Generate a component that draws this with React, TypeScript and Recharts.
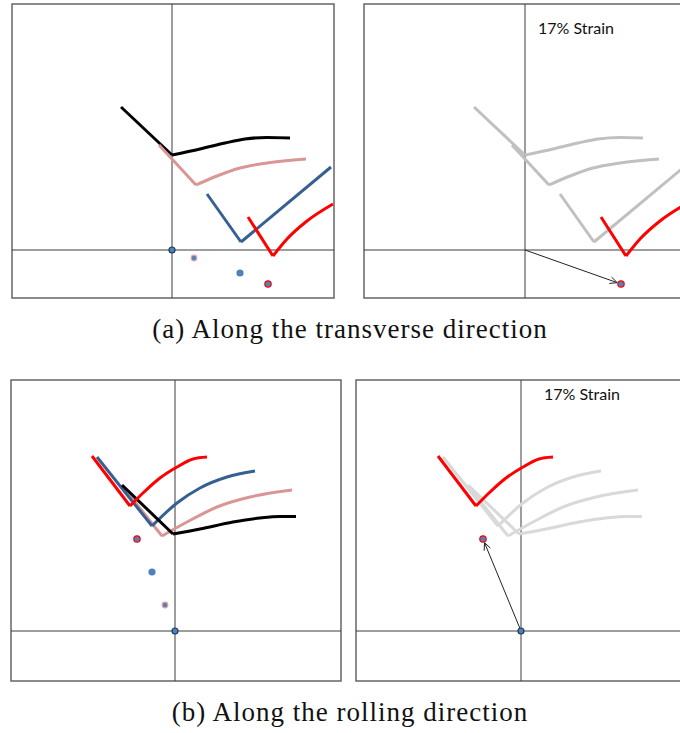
import { ComposedChart, Line, Scatter, XAxis, YAxis, ReferenceLine, ReferenceArea } from 'recharts'

type Pt = { x: number; y: number }

// (a) transverse direction – each path is a straight leg into the corner,
// then a curved arm out of it. Origin sits at the axis crossing.
const transBlackLeg: Pt[] = [{ x: -5.1, y: 14.3 }, { x: 0, y: 9.5 }]
const transBlackArm: Pt[] = [
  { x: 0, y: 9.5 }, { x: 2.8, y: 10.1 }, { x: 5.3, y: 10.7 },
  { x: 7.3, y: 11.1 }, { x: 9.5, y: 11.25 }, { x: 11.8, y: 11.2 },
]
const transPinkLeg: Pt[] = [{ x: -1.3, y: 10.5 }, { x: 2.4, y: 6.5 }]
const transPinkArm: Pt[] = [
  { x: 2.4, y: 6.5 }, { x: 4.5, y: 7.4 }, { x: 6.8, y: 8.2 }, { x: 9.5, y: 8.7 }, { x: 13.4, y: 9.1 },
]
const transBlueLeg: Pt[] = [{ x: 3.5, y: 5.6 }, { x: 6.9, y: 0.8 }]
const transBlueArm: Pt[] = [{ x: 6.9, y: 0.8 }, { x: 15.9, y: 8.3 }]
const transRedLeg: Pt[] = [{ x: 7.6, y: 3.3 }, { x: 10.1, y: -0.6 }]
const transRedArm: Pt[] = [
  { x: 10.1, y: -0.6 }, { x: 11.5, y: 1.1 }, { x: 13.5, y: 2.9 }, { x: 16.1, y: 4.6 },
]
const transOrigin: Pt[] = [{ x: 0, y: 0 }]
const transPinkDot: Pt[] = [{ x: 2.2, y: -0.8 }]
const transBlueDot: Pt[] = [{ x: 6.8, y: -2.3 }]
const transRedDot: Pt[] = [{ x: 9.6, y: -3.4 }]

// (b) rolling direction
const rollRedLeg: Pt[] = [{ x: -8.3, y: 17.5 }, { x: -4.5, y: 12.5 }]
const rollRedArm: Pt[] = [
  { x: -4.5, y: 12.5 }, { x: -3.2, y: 13.8 }, { x: -1.5, y: 15.3 },
  { x: 0.2, y: 16.4 }, { x: 1.8, y: 17.2 }, { x: 3.2, y: 17.4 },
]
const rollBlueLeg: Pt[] = [{ x: -7.8, y: 17.4 }, { x: -2.3, y: 10.5 }]
const rollBlueArm: Pt[] = [
  { x: -2.3, y: 10.5 }, { x: 0.2, y: 12.8 }, { x: 2.5, y: 14.3 }, { x: 5.2, y: 15.4 }, { x: 8.0, y: 16.0 },
]
const rollPinkLeg: Pt[] = [{ x: -5.2, y: 14.4 }, { x: -1.3, y: 9.5 }]
const rollPinkArm: Pt[] = [
  { x: -1.3, y: 9.5 }, { x: 1.2, y: 10.9 }, { x: 4.2, y: 12.4 }, { x: 7.5, y: 13.4 }, { x: 11.7, y: 14.1 },
]
const rollBlackLeg: Pt[] = [{ x: -5.3, y: 14.6 }, { x: -0.2, y: 9.7 }]
const rollBlackArm: Pt[] = [
  { x: -0.2, y: 9.7 }, { x: 2.5, y: 10.2 }, { x: 5.8, y: 10.9 }, { x: 8.5, y: 11.3 }, { x: 10.5, y: 11.45 },
  { x: 12.1, y: 11.45 },
]
const rollOrigin: Pt[] = [{ x: 0, y: 0 }]
const rollPinkDot: Pt[] = [{ x: -1.0, y: 2.6 }]
const rollBlueDot: Pt[] = [{ x: -2.3, y: 5.9 }]
const rollRedDot: Pt[] = [{ x: -3.8, y: 9.2 }]

const strainLabel = '17% Strain'
const captions = ['(a) Along the transverse direction', '(b) Along the rolling direction']

const BLACK = '#000000'
const PINK = '#d99694'
const BLUE = '#376092'
const RED = '#ff0000'
const DOT_FILL = '#4f81bd'

type Curve = { leg: Pt[]; arm: Pt[]; color: string }
type Dot = { data: Pt[]; r: number; stroke?: string }

interface PanelProps {
  left: number
  top: number
  width: number
  height: number
  xDomain: [number, number]
  yDomain: [number, number]
  curves: Curve[]
  dots: Dot[]
  arrowTo?: Pt
}

const dotShape = (r: number, stroke?: string) => (props: any) => (
  <circle
    cx={props.cx}
    cy={props.cy}
    r={r}
    fill={DOT_FILL}
    stroke={stroke ?? 'none'}
    strokeWidth={stroke ? 1.2 : 0}
  />
)

// thin line from the origin with an open arrow head stopping short of the dot
const arrowShape = (props: any) => {
  const { x1, y1, x2, y2 } = props
  const dx = x2 - x1
  const dy = y2 - y1
  const len = Math.hypot(dx, dy)
  const ux = dx / len
  const uy = dy / len
  const tx = x2 - ux * 4
  const ty = y2 - uy * 4
  const head = 8
  const a = (25 * Math.PI) / 180
  const wing = (s: number) => {
    const c = Math.cos(s * a)
    const sn = Math.sin(s * a)
    const rx = -(ux * c - uy * sn)
    const ry = -(ux * sn + uy * c)
    return `${tx + rx * head},${ty + ry * head}`
  }
  return (
    <g>
      <line x1={x1} y1={y1} x2={tx} y2={ty} stroke="#222" strokeWidth={1} />
      <polyline points={`${wing(1)} ${tx},${ty} ${wing(-1)}`} fill="none" stroke="#222" strokeWidth={1} />
    </g>
  )
}

function Panel({ left, top, width, height, xDomain, yDomain, curves, dots, arrowTo }: PanelProps) {
  return (
    <div style={{ position: 'absolute', left: left - 2, top: top - 2 }}>
      <ComposedChart width={width + 4} height={height + 4} margin={{ top: 2, right: 2, bottom: 2, left: 2 }}>
        <XAxis type="number" dataKey="x" domain={xDomain} allowDataOverflow hide />
        <YAxis type="number" dataKey="y" domain={yDomain} allowDataOverflow hide />
        <ReferenceArea
          x1={xDomain[0]}
          x2={xDomain[1]}
          y1={yDomain[0]}
          y2={yDomain[1]}
          fill="none"
          stroke="#666"
          strokeWidth={1.5}
          fillOpacity={0}
          ifOverflow="visible"
        />
        <ReferenceLine x={0} stroke="#3c3c3c" strokeWidth={1} />
        <ReferenceLine y={0} stroke="#3c3c3c" strokeWidth={1} />
        {curves.flatMap((c, i) => [
          <Line
            key={`leg${i}`}
            data={c.leg}
            dataKey="y"
            type="linear"
            stroke={c.color}
            strokeWidth={3}
            dot={false}
            activeDot={false}
            isAnimationActive={false}
          />,
          <Line
            key={`arm${i}`}
            data={c.arm}
            dataKey="y"
            type="monotone"
            stroke={c.color}
            strokeWidth={3}
            dot={false}
            activeDot={false}
            isAnimationActive={false}
          />,
        ])}
        {arrowTo && (
          <ReferenceLine
            segment={[{ x: 0, y: 0 }, arrowTo]}
            shape={arrowShape}
            ifOverflow="visible"
          />
        )}
        {dots.map((d, i) => (
          <Scatter
            key={i}
            data={d.data}
            dataKey="y"
            shape={dotShape(d.r, d.stroke)}
            isAnimationActive={false}
          />
        ))}
      </ComposedChart>
    </div>
  )
}

const labelStyle: React.CSSProperties = {
  position: 'absolute',
  fontFamily: 'Lato, "Open Sans", sans-serif',
  fontSize: 16,
  lineHeight: '16px',
  color: '#111',
  whiteSpace: 'nowrap',
}

const captionStyle: React.CSSProperties = {
  position: 'absolute',
  left: 0,
  width: 700,
  textAlign: 'center',
  fontFamily: '"Liberation Serif", "DejaVu Serif", serif',
  fontSize: 27,
  letterSpacing: 1,
  lineHeight: '27px',
  color: '#111',
  whiteSpace: 'nowrap',
}

export default function App() {
  const gray1 = '#c0c0c0'
  const gray2 = '#d9d9d9'
  return (
    <div
      style={{
        position: 'absolute',
        left: 0,
        top: 0,
        width: 680,
        height: 733,
        overflow: 'hidden',
        background: '#fff',
      }}
    >
      <Panel
        left={12}
        top={4}
        width={322}
        height={294}
        xDomain={[-16.0, 16.2]}
        yDomain={[-4.8, 24.6]}
        curves={[
          { leg: transBlackLeg, arm: transBlackArm, color: BLACK },
          { leg: transPinkLeg, arm: transPinkArm, color: PINK },
          { leg: transBlueLeg, arm: transBlueArm, color: BLUE },
          { leg: transRedLeg, arm: transRedArm, color: RED },
        ]}
        dots={[
          { data: transOrigin, r: 3, stroke: '#1f3a5f' },
          { data: transPinkDot, r: 2.8, stroke: '#e3a3a3' },
          { data: transBlueDot, r: 3.6 },
          { data: transRedDot, r: 3.2, stroke: RED },
        ]}
      />
      <Panel
        left={364}
        top={4}
        width={322}
        height={294}
        xDomain={[-16.1, 16.1]}
        yDomain={[-4.8, 24.6]}
        curves={[
          { leg: transBlackLeg, arm: transBlackArm, color: gray1 },
          { leg: transPinkLeg, arm: transPinkArm, color: gray1 },
          { leg: transBlueLeg, arm: transBlueArm, color: gray1 },
          { leg: transRedLeg, arm: transRedArm, color: RED },
        ]}
        dots={[{ data: transRedDot, r: 3.2, stroke: RED }]}
        arrowTo={transRedDot[0]}
      />
      <div style={{ ...labelStyle, left: 538, top: 20 }}>{strainLabel}</div>
      <div style={{ ...captionStyle, top: 316 }}>{captions[0]}</div>

      <Panel
        left={11}
        top={380}
        width={330}
        height={301}
        xDomain={[-16.4, 16.6]}
        yDomain={[-5.0, 25.1]}
        curves={[
          { leg: rollPinkLeg, arm: rollPinkArm, color: PINK },
          { leg: rollBlueLeg, arm: rollBlueArm, color: BLUE },
          { leg: rollBlackLeg, arm: rollBlackArm, color: BLACK },
          { leg: rollRedLeg, arm: rollRedArm, color: RED },
        ]}
        dots={[
          { data: rollOrigin, r: 3, stroke: '#1f3a5f' },
          { data: rollPinkDot, r: 2.8, stroke: '#e3a3a3' },
          { data: rollBlueDot, r: 3.6 },
          { data: rollRedDot, r: 3.2, stroke: RED },
        ]}
      />
      <Panel
        left={356}
        top={380}
        width={330}
        height={301}
        xDomain={[-16.5, 16.5]}
        yDomain={[-5.0, 25.1]}
        curves={[
          { leg: rollPinkLeg, arm: rollPinkArm, color: gray2 },
          { leg: rollBlueLeg, arm: rollBlueArm, color: gray2 },
          { leg: rollBlackLeg, arm: rollBlackArm, color: gray2 },
          { leg: rollRedLeg, arm: rollRedArm, color: RED },
        ]}
        dots={[
          { data: rollOrigin, r: 3, stroke: '#1f3a5f' },
          { data: rollRedDot, r: 3.2, stroke: RED },
        ]}
        arrowTo={rollRedDot[0]}
      />
      <div style={{ ...labelStyle, left: 544, top: 386 }}>{strainLabel}</div>
      <div style={{ ...captionStyle, top: 699 }}>{captions[1]}</div>
    </div>
  )
}
